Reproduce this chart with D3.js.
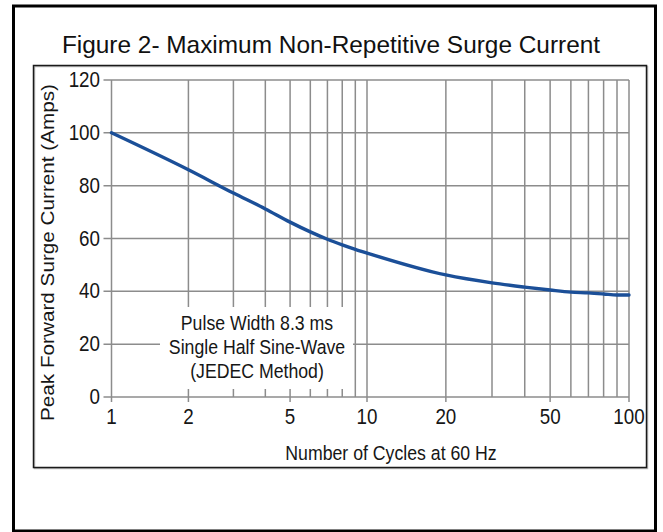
<!DOCTYPE html>
<html><head><meta charset="utf-8">
<script src="https://cdn.jsdelivr.net/npm/d3@7"></script>
<style>
html,body{margin:0;padding:0;background:#fff;}
svg{display:block;}
</style></head>
<body>
<script>
// ---- data ----
const cycles = [1, 2, 3, 4, 5, 6, 7, 8, 9, 10, 20, 30, 40, 50, 60, 70, 80, 90, 100];
const surgeCurrent = [100, 86, 77.2, 71.2, 66.2, 62.5, 59.7, 57.6, 55.9, 54.5, 46.2, 43.2, 41.6, 40.5, 39.7, 39.4, 39.0, 38.6, 38.6];
const xTickLabels = [1, 2, 5, 10, 20, 50, 100];
const xGridValues = [1, 2, 3, 4, 5, 6, 7, 8, 9, 10, 20, 30, 40, 50, 60, 70, 80, 90, 100];
const yTickValues = [0, 20, 40, 60, 80, 100, 120];
const titleText = "Figure 2- Maximum Non-Repetitive Surge Current";
const xTitle = "Number of Cycles at 60 Hz";
const yTitle = "Peak Forward Surge Current (Amps)";
const noteLines = ["Pulse Width 8.3 ms", "Single Half Sine-Wave", "(JEDEC Method)"];

const W = 663, H = 532;
const svg = d3.select("body").append("svg").attr("width", W).attr("height", H);
const FONT = "'Liberation Sans', Arial, Helvetica, sans-serif";
const FS = 17.7, TICK_FS = 18.8, K = 1.17; // chart text sizes and vertical stretch
const txtColor = "#161616";

// frames
svg.append("rect").attr("x", 13.5).attr("y", 6).attr("width", 642).attr("height", 525)
  .attr("fill", "none").attr("stroke", "#000").attr("stroke-width", 3);
svg.append("rect").attr("x", 34.5).attr("y", 66.5).attr("width", 613).attr("height", 402)
  .attr("fill", "none").attr("stroke", "#bbb").attr("stroke-width", 1.5);
svg.append("rect").attr("x", 33.5).attr("y", 65.5).attr("width", 613).attr("height", 402)
  .attr("fill", "none").attr("stroke", "#1a1a1a").attr("stroke-width", 1.5);

svg.append("text").attr("x", 331).attr("y", 53).attr("text-anchor", "middle")
  .attr("font-family", FONT).attr("font-size", 24.4)
  .attr("fill", "#111").text(titleText);

const x = d3.scaleLog().domain([1, 10, 100]).range([111.5, 367, 629]);
const y = d3.scaleLinear().domain([0, 120]).range([397, 80]);

const gridColor = "#8c8c8c";
const g = svg.append("g");

// horizontal grid
g.selectAll(".hg").data(yTickValues).join("line")
  .attr("x1", x(1) - 8).attr("x2", x(100))
  .attr("y1", d => y(d)).attr("y2", d => y(d))
  .attr("stroke", gridColor).attr("stroke-width", 1.5);
// vertical grid
g.selectAll(".vg").data(xGridValues).join("line")
  .attr("x1", d => x(d)).attr("x2", d => x(d))
  .attr("y1", y(120)).attr("y2", d => xTickLabels.includes(d) ? y(0) + 5 : y(0))
  .attr("stroke", gridColor).attr("stroke-width", 1.5);

// annotation background
svg.append("rect").attr("x", 160).attr("y", 307).attr("width", 193).attr("height", 82).attr("fill", "#fff");

function stretchText(sel, fs) {
  return sel.attr("font-family", FONT).attr("font-size", fs || FS).attr("fill", txtColor);
}
// y tick labels
stretchText(svg.selectAll(".yl").data(yTickValues).join("text"), TICK_FS)
  .attr("transform", d => `translate(100,${y(d) + 7}) scale(1,${K})`)
  .attr("text-anchor", "end").text(d => d);
// x tick labels
stretchText(svg.selectAll(".xl").data(xTickLabels).join("text"), TICK_FS)
  .attr("transform", d => `translate(${x(d)},424) scale(1,${K})`)
  .attr("text-anchor", "middle").text(d => d);

stretchText(svg.append("text"))
  .attr("transform", `translate(391,460) scale(1,${K})`)
  .attr("text-anchor", "middle").text(xTitle);
stretchText(svg.append("text"))
  .attr("transform", `translate(54,252.5) scale(1,${K}) rotate(-90)`)
  .attr("text-anchor", "middle").text(yTitle);

stretchText(svg.selectAll(".note").data(noteLines).join("text"))
  .attr("transform", (d, i) => `translate(257,${330 + i * 24}) scale(1,${K})`)
  .attr("text-anchor", "middle").text(d => d);

// curve
const pts = cycles.map((c, i) => [x(c), y(surgeCurrent[i])]);
svg.append("path").attr("d", d3.line().curve(d3.curveMonotoneX)(pts))
  .attr("fill", "none").attr("stroke", "#1b4f98").attr("stroke-width", 3.4)
  .attr("stroke-linecap", "round");
</script>
</body></html>
